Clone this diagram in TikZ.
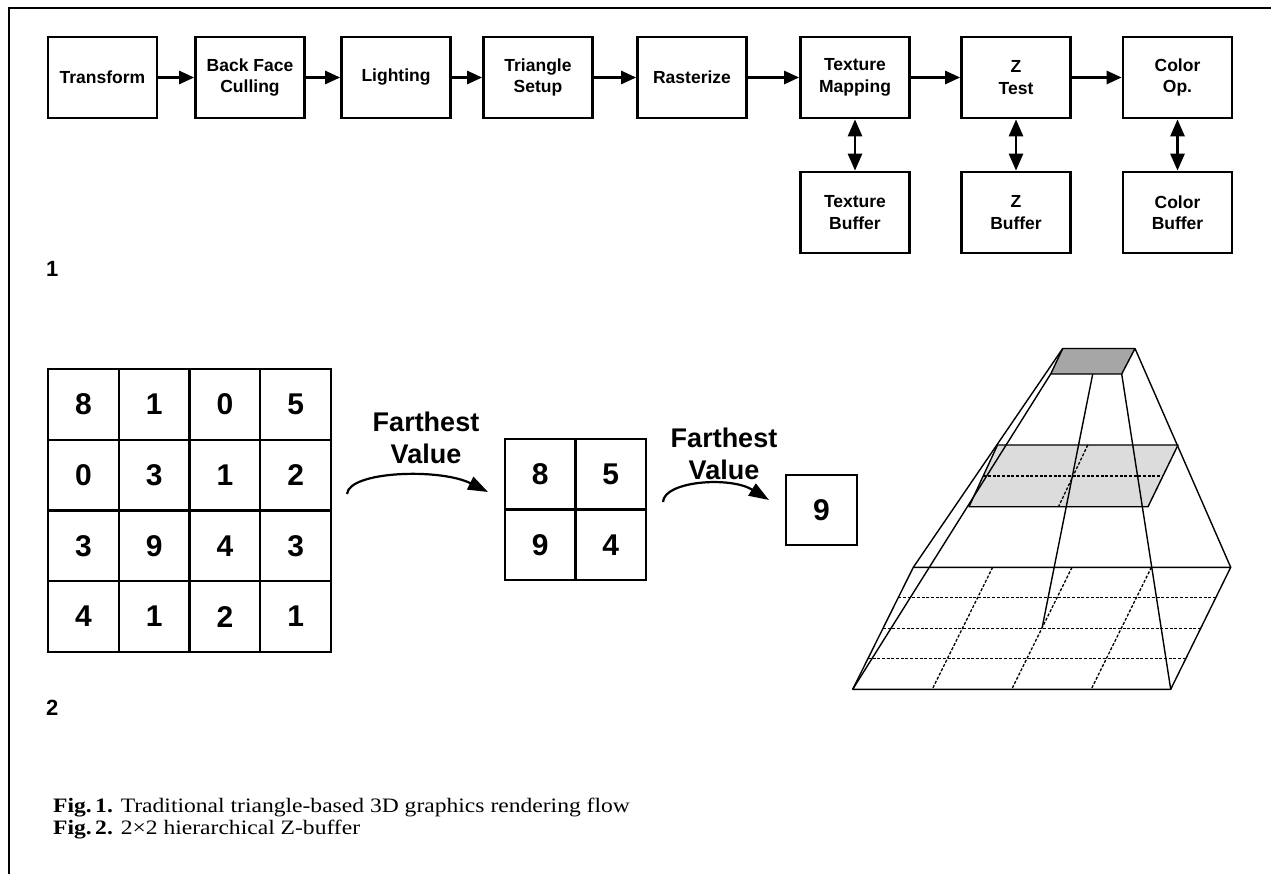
\documentclass[tikz,border=0pt]{standalone}
\usepackage{fontspec}
\setmainfont[FakeStretch=1.15]{Liberation Serif}
\newfontfamily\arialf{Liberation Sans}
\usetikzlibrary{arrows.meta,calc}
\definecolor{topgray}{RGB}{166,166,166}
\definecolor{midgray}{RGB}{220,220,220}
\begin{document}
\begin{tikzpicture}[x=1pt,y=-1pt,
  stage/.style={draw, line width=2.7pt, minimum width=109pt, minimum height=81pt, inner sep=0pt, align=center,
    font=\arialf\bfseries\fontsize{17.5}{21.5}\selectfont},
  flow/.style={line width=2.7pt, -{Triangle[length=15pt,width=13pt]}},
  dflow/.style={line width=2.7pt, {Triangle[length=17pt,width=14pt]}-{Triangle[length=17pt,width=14pt]}},
  cell/.style={draw, line width=2pt, minimum width=70.7pt, minimum height=70.7pt, inner sep=0pt,
    font=\arialf\bfseries\fontsize{30}{36}\selectfont},
  flabel/.style={align=center, inner sep=0pt, font=\arialf\bfseries\fontsize{27}{32}\selectfont},
  carrow/.style={line width=2.2pt, -{Triangle[length=20pt,width=14pt]}},
  figlab/.style={anchor=base west, inner sep=0pt, font=\arialf\bfseries\fontsize{22}{26}\selectfont},
  caption/.style={anchor=base west, inner sep=0pt, font=\fontsize{20.5}{22}\selectfont},
  pyr/.style={line width=1.4pt, line join=round},
  pdash/.style={line width=1.3pt, dash pattern=on 3pt off 1.7pt}
]
\useasboundingbox (0,0) rectangle (1271,874);
% frame
\draw[line width=2pt] (8.5,874) -- (8.5,8) -- (1271,8);

% ---- Figure 1: pipeline ----
\node[stage] (t1) at (102.5,77.5) {Transform};
\node[stage] (t2) at (250,77.5) {Back Face\\Culling};
\node[stage] (t3) at (396,77.5) {Lighting};
\node[stage] (t4) at (538,77.5) {Triangle\\Setup};
\node[stage] (t5) at (692,77.5) {Rasterize};
\node[stage] (t6) at (855,77.5) {Texture\\Mapping};
\node[stage] (t7) at (1016,77.5) {Z\\Test};
\node[stage] (t8) at (1177.5,77.5) {Color\\Op.};
\node[stage] (b6) at (855,212.5) {Texture\\Buffer};
\node[stage] (b7) at (1016,212.5) {Z\\Buffer};
\node[stage] (b8) at (1177.5,212.5) {Color\\Buffer};
\draw[flow] (t1) -- (t2);
\draw[flow] (t2) -- (t3);
\draw[flow] (t3) -- (t4);
\draw[flow] (t4) -- (t5);
\draw[flow] (t5) -- (t6);
\draw[flow] (t6) -- (t7);
\draw[flow] (t7) -- (t8);
\draw[dflow] (t6) -- (b6);
\draw[dflow] (t7) -- (b7);
\draw[dflow] (t8) -- (b8);
\node[figlab] (lab1) at (46,277) {1};

% ---- Figure 2: hierarchical Z-buffer ----
\node[cell] (g11) at (83.4,404.4) {8};
\node[cell] (g12) at (154.1,404.4) {1};
\node[cell] (g13) at (224.9,404.4) {0};
\node[cell] (g14) at (295.6,404.4) {5};
\node[cell] (g21) at (83.4,475.1) {0};
\node[cell] (g22) at (154.1,475.1) {3};
\node[cell] (g23) at (224.9,475.1) {1};
\node[cell] (g24) at (295.6,475.1) {2};
\node[cell] (g31) at (83.4,545.9) {3};
\node[cell] (g32) at (154.1,545.9) {9};
\node[cell] (g33) at (224.9,545.9) {4};
\node[cell] (g34) at (295.6,545.9) {3};
\node[cell] (g41) at (83.4,616.6) {4};
\node[cell] (g42) at (154.1,616.6) {1};
\node[cell] (g43) at (224.9,616.6) {2};
\node[cell] (g44) at (295.6,616.6) {1};

\node[cell] (h11) at (540.3,474.3) {8};
\node[cell] (h12) at (610.8,474.3) {5};
\node[cell] (h21) at (540.3,544.8) {9};
\node[cell] (h22) at (610.8,544.8) {4};

\node[cell] (k) at (821.5,510) {9};

\node[flabel] (fv1) at (426,438) {Farthest\\Value};
\node[flabel] (fv2) at (724,454) {Farthest\\Value};
\coordinate (c1s) at (347,494);
\coordinate (c1e) at (488,492);
\coordinate (c2s) at (663,502);
\coordinate (c2e) at (769,500);
\draw[carrow] (c1s) .. controls (349,471) and (440,468) .. (c1e);
\draw[carrow] (c2s) .. controls (664,481) and (730,476) .. (c2e);

\node[figlab] (lab2) at (46,715) {2};

% pyramid coordinates
\coordinate (TBL) at (1062.7,348.5);
\coordinate (TBR) at (1135,348.5);
\coordinate (TFR) at (1121.7,374);
\coordinate (TFL) at (1050.7,374);
\coordinate (MBL) at (997.5,445);
\coordinate (MBR) at (1178,445);
\coordinate (MFR) at (1148,506.7);
\coordinate (MFL) at (969,506.7);
\coordinate (BBL) at (913.3,567.3);
\coordinate (BBR) at (1230.7,567.3);
\coordinate (BFR) at (1170.7,689.3);
\coordinate (BFL) at (852.7,689.3);
\coordinate (EA) at (1092.7,374);
\coordinate (EB) at ($(BBL)!0.5!(BFR)$);

% levels
\draw[pyr, fill=midgray] (MBL) -- (MBR) -- (MFR) -- (MFL) -- cycle;
\draw[pdash] ($(MBL)!0.5!(MFL)$) -- ($(MBR)!0.5!(MFR)$);
\draw[pdash] ($(MBL)!0.5!(MBR)$) -- ($(MFL)!0.5!(MFR)$);
\draw[pyr] (BBL) -- (BBR) -- (BFR) -- (BFL) -- cycle;
\foreach \t in {0.25,0.5,0.75}{
  \draw[pdash] ($(BBL)!\t!(BFL)$) -- ($(BBR)!\t!(BFR)$);
  \draw[pdash] ($(BBL)!\t!(BBR)$) -- ($(BFL)!\t!(BFR)$);
}
\draw[pyr, fill=topgray] (TBL) -- (TBR) -- (TFR) -- (TFL) -- cycle;
% pyramid edges
\draw[pyr] (BFL) -- (TFL);
\draw[pyr] (BBL) -- (TBL);
\draw[pyr] (BBR) -- (TBR);
\draw[pyr] (BFR) -- (TFR);
\draw[pyr] (EA) -- (EB);

% captions
\node[caption] (cap1) at (53,812) {\textbf{Fig.\,1.} Traditional triangle-based 3D graphics rendering flow};
\node[caption] (cap2) at (53,834) {\textbf{Fig.\,2.} 2×2 hierarchical Z-buffer};
\end{tikzpicture}
\end{document}
